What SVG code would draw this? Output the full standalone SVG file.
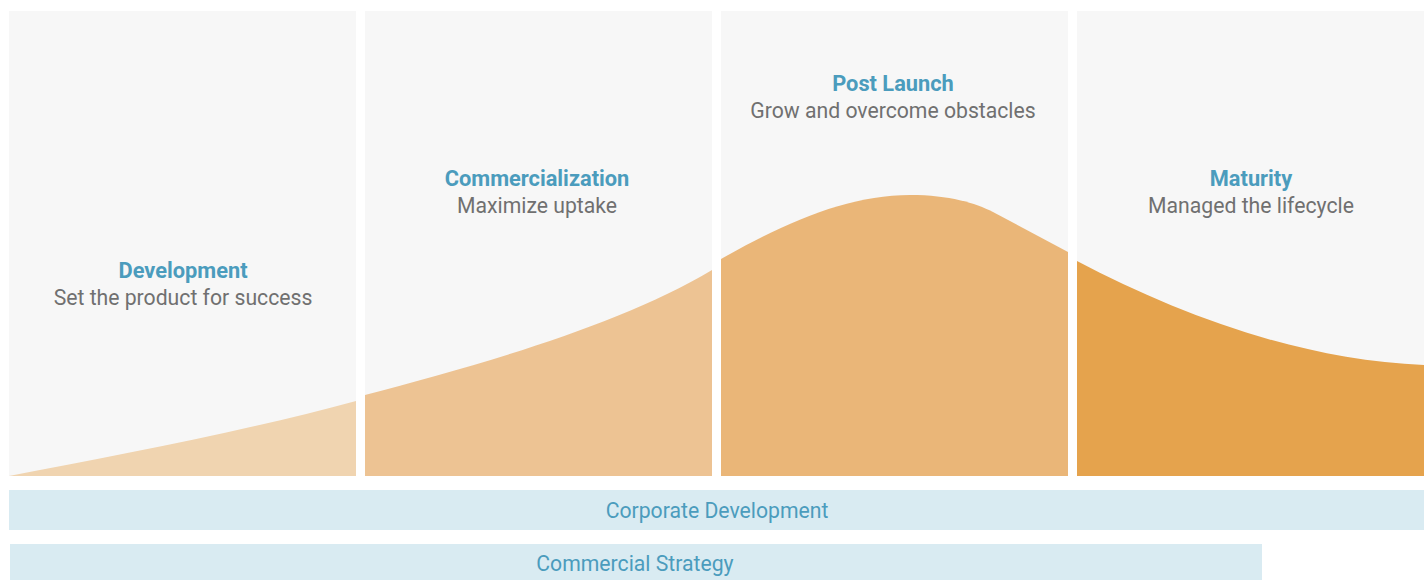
<svg xmlns="http://www.w3.org/2000/svg" width="1427" height="580" viewBox="0 0 1427 580">
<style>
.bg{fill:#f7f7f7}
.title{font-family:Roboto,"Liberation Sans",sans-serif;font-size:21.8px;font-weight:bold;fill:#4b9cbd;text-anchor:middle}
.sub{font-family:Roboto,"Liberation Sans",sans-serif;font-size:21.2px;fill:#707070;text-anchor:middle}
.bar{fill:#d9ebf2}
.barlabel{font-family:Roboto,"Liberation Sans",sans-serif;font-size:21.2px;fill:#4b9cbd;text-anchor:middle}
</style>
<rect width="1427" height="580" fill="#ffffff"/>
<g id="development">
<rect class="bg" x="9" y="11" width="347" height="465"/>
<path d="M9,476 C120,455 250,430 356,401 L356,476 Z" fill="#f0d4b0"/>
<text class="title" x="183" y="278">Development</text>
<text class="sub" x="183" y="305">Set the product for success</text>
</g>
<g id="commercialization">
<rect class="bg" x="365" y="11" width="347" height="465"/>
<path d="M365,395 C480,365 620,325 712,270 L712,476 L365,476 Z" fill="#edc393"/>
<text class="title" x="537" y="186">Commercialization</text>
<text class="sub" x="537" y="213">Maximize uptake</text>
</g>
<g id="post-launch">
<rect class="bg" x="721" y="11" width="347" height="465"/>
<path d="M721,259 C790,220 850,195 910,195 C950,195 975,203 993,212 L1068,252 L1068,476 L721,476 Z" fill="#eab678"/>
<text class="title" x="893" y="91">Post Launch</text>
<text class="sub" x="893" y="118">Grow and overcome obstacles</text>
</g>
<g id="maturity">
<rect class="bg" x="1077" y="11" width="347" height="465"/>
<path d="M1077,261 C1180,315 1300,360 1424,365 L1424,476 L1077,476 Z" fill="#e5a34d"/>
<text class="title" x="1251" y="186">Maturity</text>
<text class="sub" x="1251" y="213">Managed the lifecycle</text>
</g>
<g id="corporate-development">
<rect class="bar" x="9" y="490" width="1415" height="40"/>
<text class="barlabel" x="717" y="518">Corporate Development</text>
</g>
<g id="commercial-strategy">
<rect class="bar" x="10" y="544" width="1252" height="36"/>
<text class="barlabel" x="635" y="571">Commercial Strategy</text>
</g>
<g id="connectors"></g>
</svg>
